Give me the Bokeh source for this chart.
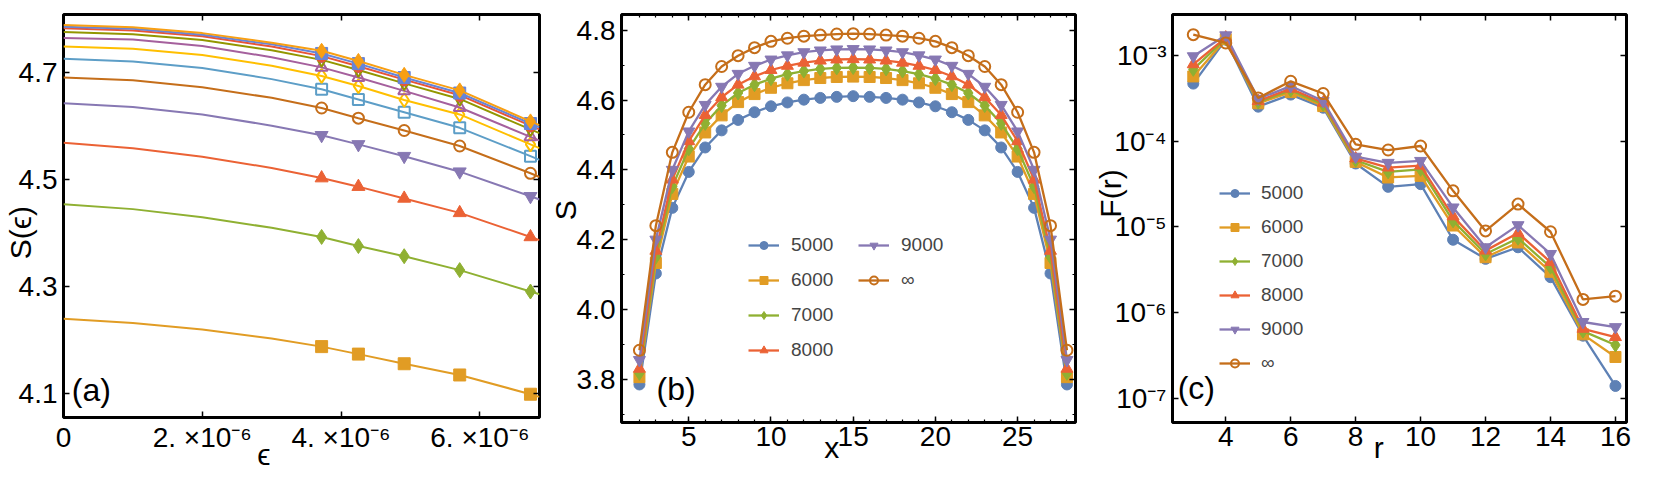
import math
from bokeh.plotting import figure
from bokeh.models import (FixedTicker, CustomJSTickFormatter, Label, Legend, LegendItem,
                          LinearAxis, LogAxis, Range1d)
from bokeh.layouts import row
from bokeh.embed import file_html
from bokeh.resources import INLINE

FONT = "Liberation Sans"
NB = "\u00a0"

# ---------------- panel (a) data ----------------
a_eps_fit = [0.0, 1e-6, 2e-6, 3e-6, 3.72e-6, 4.25e-6, 4.91e-6, 5.71e-6, 6.73e-6, 6.86e-6]
a_eps_markers = [3.72e-6, 4.25e-6, 4.91e-6, 5.71e-6, 6.73e-6]
a_fit = [
    [4.239, 4.231, 4.219, 4.202, 4.187, 4.173, 4.155, 4.134, 4.098, 4.093],
    [4.453, 4.444, 4.429, 4.409, 4.392, 4.375, 4.356, 4.330, 4.290, 4.285],
    [4.568, 4.558, 4.542, 4.521, 4.502, 4.486, 4.464, 4.437, 4.392, 4.386],
    [4.642, 4.635, 4.621, 4.600, 4.582, 4.565, 4.543, 4.514, 4.468, 4.462],
    [4.690, 4.685, 4.672, 4.652, 4.633, 4.614, 4.591, 4.562, 4.511, 4.504],
    [4.725, 4.720, 4.708, 4.687, 4.668, 4.649, 4.625, 4.596, 4.543, 4.536],
    [4.748, 4.744, 4.732, 4.712, 4.693, 4.674, 4.648, 4.621, 4.565, 4.558],
    [4.764, 4.761, 4.749, 4.728, 4.709, 4.690, 4.665, 4.634, 4.579, 4.572],
    [4.775, 4.771, 4.760, 4.741, 4.723, 4.704, 4.679, 4.650, 4.593, 4.586],
    [4.782, 4.778, 4.767, 4.748, 4.730, 4.711, 4.686, 4.657, 4.600, 4.593],
    [4.785, 4.781, 4.770, 4.752, 4.735, 4.716, 4.690, 4.661, 4.604, 4.597],
    [4.788, 4.784, 4.773, 4.755, 4.740, 4.721, 4.695, 4.666, 4.608, 4.601],
]
a_markers = [
    [4.187, 4.173, 4.155, 4.134, 4.098],
    [4.392, 4.375, 4.356, 4.330, 4.290],
    [4.502, 4.486, 4.464, 4.437, 4.392],
    [4.582, 4.565, 4.543, 4.514, 4.468],
    [4.633, 4.614, 4.591, 4.562, 4.511],
    [4.668, 4.649, 4.625, 4.596, 4.543],
    [4.693, 4.674, 4.648, 4.621, 4.565],
    [4.709, 4.690, 4.665, 4.634, 4.579],
    [4.723, 4.704, 4.679, 4.650, 4.593],
    [4.730, 4.711, 4.686, 4.657, 4.600],
    [4.735, 4.716, 4.690, 4.661, 4.604],
    [4.740, 4.721, 4.695, 4.666, 4.608],
]
a_colors = ["#E19C24", "#8FB032", "#EB6235", "#8778B3", "#C56E1A", "#5D9EC7",
            "#FFBF00", "#A5609D", "#929600", "#E95536", "#6685D9", "#F89F13"]
a_marker_types = ["square", "diamond", "triangle", "inverted_triangle", "circle", "square",
                  "diamond", "triangle", "inverted_triangle", "circle", "square", "diamond"]
a_marker_filled = [True, True, True, True, False, False, False, False, False, True, True, True]
a_xticks = [0.0, 2e-6, 4e-6, 6e-6]
a_xtick_labels = ["0", "2. \u00d710\u207b\u2076", "4. \u00d710\u207b\u2076", "6. \u00d710\u207b\u2076"]
a_yticks = [4.1, 4.3, 4.5, 4.7]
a_ytick_labels = ["4.1", "4.3", "4.5", "4.7"]
a_xlabel = "\u03f5"
a_ylabel = "S(\u03f5)"

# ---------------- panel (b) data ----------------
b_x = list(range(2, 29))
b_labels = ["5000", "6000", "7000", "8000", "9000", "\u221e"]
b_S = [
    [3.785, 4.103, 4.291, 4.394, 4.464, 4.513, 4.543, 4.565, 4.582, 4.593, 4.601, 4.606, 4.609, 4.611,
     4.609, 4.606, 4.601, 4.593, 4.582, 4.565, 4.543, 4.513, 4.464, 4.394, 4.291, 4.103, 3.785],
    [3.806, 4.133, 4.331, 4.438, 4.507, 4.556, 4.594, 4.617, 4.635, 4.648, 4.657, 4.663, 4.666, 4.667,
     4.666, 4.663, 4.657, 4.648, 4.635, 4.617, 4.594, 4.556, 4.507, 4.438, 4.331, 4.133, 3.806],
    [3.817, 4.150, 4.352, 4.460, 4.533, 4.584, 4.620, 4.644, 4.661, 4.674, 4.683, 4.689, 4.692, 4.693,
     4.692, 4.689, 4.683, 4.674, 4.661, 4.644, 4.620, 4.584, 4.533, 4.460, 4.352, 4.150, 3.817],
    [3.830, 4.168, 4.372, 4.482, 4.557, 4.608, 4.644, 4.668, 4.686, 4.698, 4.707, 4.713, 4.716, 4.717,
     4.716, 4.713, 4.707, 4.698, 4.686, 4.668, 4.644, 4.608, 4.557, 4.482, 4.372, 4.168, 3.830],
    [3.855, 4.200, 4.400, 4.510, 4.586, 4.638, 4.675, 4.698, 4.716, 4.728, 4.737, 4.742, 4.745, 4.746,
     4.745, 4.742, 4.737, 4.728, 4.716, 4.698, 4.675, 4.638, 4.586, 4.510, 4.400, 4.200, 3.855],
    [3.883, 4.240, 4.450, 4.565, 4.644, 4.696, 4.727, 4.750, 4.768, 4.777, 4.783, 4.786, 4.789, 4.790,
     4.789, 4.786, 4.783, 4.777, 4.768, 4.750, 4.727, 4.696, 4.644, 4.565, 4.450, 4.240, 3.883],
]
b_xticks = [5, 10, 15, 20, 25]
b_xtick_labels = ["5", "10", "15", "20", "25"]
b_yticks = [3.8, 4.0, 4.2, 4.4, 4.6, 4.8]
b_ytick_labels = ["3.8", "4.0", "4.2", "4.4", "4.6", "4.8"]
b_xlabel = "x"
b_ylabel = "S"

# ---------------- panel (c) data ----------------
c_r = list(range(3, 17))
c_F = [
    [4.7e-4, 1.53e-3, 2.53e-4, 3.5e-4, 2.46e-4, 5.5e-5, 2.94e-5, 3.16e-5, 7.1e-6, 4.25e-6, 5.8e-6, 2.6e-6, 5.4e-7, 1.4e-7],
    [5.7e-4, 1.55e-3, 2.77e-4, 3.74e-4, 2.57e-4, 5.75e-5, 3.78e-5, 3.95e-5, 1.04e-5, 4.44e-6, 6.6e-6, 3.0e-6, 5.6e-7, 3.05e-7],
    [6.9e-4, 1.58e-3, 2.86e-4, 3.95e-4, 2.69e-4, 6.0e-5, 4.4e-5, 4.7e-5, 1.18e-5, 4.85e-6, 7.4e-6, 3.4e-6, 6.1e-7, 4.2e-7],
    [7.9e-4, 1.62e-3, 2.94e-4, 4.1e-4, 2.81e-4, 6.3e-5, 4.93e-5, 5.2e-5, 1.33e-5, 5.3e-6, 8.5e-6, 3.9e-6, 6.5e-7, 5.2e-7],
    [9.8e-4, 1.72e-3, 3.13e-4, 4.4e-4, 2.94e-4, 6.6e-5, 5.6e-5, 5.9e-5, 1.69e-5, 5.8e-6, 1.05e-5, 4.85e-6, 7.8e-7, 6.8e-7],
    [1.75e-3, 1.40e-3, 3.2e-4, 5.0e-4, 3.6e-4, 9.2e-5, 7.9e-5, 8.8e-5, 2.64e-5, 9.0e-6, 1.85e-5, 8.8e-6, 1.43e-6, 1.56e-6],
]
c_xticks = [4, 6, 8, 10, 12, 14, 16]
c_xtick_labels = ["4", "6", "8", "10", "12", "14", "16"]
c_yticks = [1e-7, 1e-6, 1e-5, 1e-4, 1e-3]
c_ytick_labels = ["10\u207b\u2077", "10\u207b\u2076", "10\u207b\u2075", "10\u207b\u2074", "10\u207b\u00b3"]
c_xlabel = "r"
c_ylabel = "F(r)"

bc_colors = ["#5E81B5", "#E19C24", "#8FB032", "#EB6235", "#8778B3", "#C56E1A"]
bc_markers = ["circle", "square", "diamond", "triangle", "inverted_triangle", "circle"]
bc_filled = [True, True, True, True, True, False]
bc_sizes = [11, 11, 14, 12, 12, 11]

# ---------------- helpers ----------------
def label_fmt(ticks, labels):
    return CustomJSTickFormatter(args=dict(t=ticks, l=labels), code="""
        for (let i = 0; i < t.length; i++) {
            if (Math.abs(t[i] - tick) <= 1e-6 * Math.max(Math.abs(t[i]), 1e-15)) { return l[i]; }
        }
        return '';
    """)

def style_axis(ax, ticks, labels=None, minor=None, standoff=6):
    ax.ticker = FixedTicker(ticks=ticks, minor_ticks=minor or [])
    ax.axis_line_color = None
    ax.major_tick_in = 6
    ax.major_tick_out = 0
    ax.minor_tick_in = 3
    ax.minor_tick_out = 0
    ax.major_tick_line_width = 1.5
    ax.minor_tick_line_width = 1.2
    ax.major_tick_line_color = "black"
    ax.minor_tick_line_color = "black"
    if labels is None:
        ax.formatter = CustomJSTickFormatter(code="return '';")
        ax.major_label_text_font_size = "1px"
        ax.major_label_standoff = 0
    else:
        ax.formatter = label_fmt(ticks, labels)
        ax.major_label_text_font = FONT
        ax.major_label_text_font_size = "28px"
        ax.major_label_text_color = "black"
        ax.major_label_standoff = standoff

def set_axis_label(ax, text, standoff):
    ax.axis_label = text
    ax.axis_label_text_font = FONT
    ax.axis_label_text_font_size = "30px"
    ax.axis_label_text_font_style = "normal"
    ax.axis_label_text_color = "black"
    ax.axis_label_standoff = standoff

def make_fig(xr, yr, fw, fh, ml, mr, mt, mb, ylog=False):
    p = figure(output_backend="svg", toolbar_location=None,
               frame_width=fw, frame_height=fh,
               min_border_left=ml, min_border_right=mr, min_border_top=mt, min_border_bottom=mb,
               x_range=xr, y_range=yr, y_axis_type="log" if ylog else "linear")
    p.grid.visible = False
    p.outline_line_color = "black"
    p.outline_line_width = 3
    p.background_fill_color = "white"
    p.border_fill_color = "white"
    return p

def add_mirror_axes(p, xticks, yticks, xminor=None, yminor=None, ylog=False):
    top = LinearAxis()
    style_axis(top, xticks, None, xminor)
    p.add_layout(top, "above")
    right = LogAxis() if ylog else LinearAxis()
    style_axis(right, yticks, None, yminor)
    p.add_layout(right, "right")

def panel_label(p, x, y, text):
    p.add_layout(Label(x=x, y=y, text=text, text_align="left", text_baseline="middle",
                       text_font=FONT, text_font_size="32px", text_color="black"))

def make_legend(items, loc, spacing, nrows=None, label_width=20, standoff=12):
    kw = dict(items=items, location=loc, orientation="vertical",
              label_text_font=FONT, label_text_font_size="19px", glyph_width=31, glyph_height=20,
              label_height=20, label_width=label_width, label_standoff=standoff, spacing=spacing,
              padding=0, margin=0, background_fill_alpha=0, border_line_alpha=0)
    if nrows is not None:
        kw["nrows"] = nrows
    return Legend(**kw)

# ---------------- panel (a) ----------------
pa = make_fig(Range1d(0, 6.86e-6), Range1d(4.0545, 4.8078), 476, 403, 58, 6, 14, 49)
style_axis(pa.xaxis[0], a_xticks, a_xtick_labels, standoff=4)
style_axis(pa.yaxis[0], a_yticks, a_ytick_labels, standoff=6)
set_axis_label(pa.xaxis[0], a_xlabel + NB * 9, -18)
set_axis_label(pa.yaxis[0], a_ylabel + NB * 4, -21)
add_mirror_axes(pa, a_xticks, a_yticks)
a_sizes = {"square": 12, "diamond": 15, "triangle": 13, "inverted_triangle": 13, "circle": 12}
for i in range(len(a_fit)):
    c = a_colors[i]
    pa.line(a_eps_fit, a_fit[i], line_color=c, line_width=2)
    mk = a_marker_types[i]
    sz = a_sizes[mk]
    if a_marker_filled[i]:
        pa.scatter(a_eps_markers, a_markers[i], marker=mk, size=sz, fill_color=c, line_color=c, line_width=1)
    else:
        pa.scatter(a_eps_markers, a_markers[i], marker=mk, size=sz - 1, fill_color=None, line_color=c, line_width=2)
panel_label(pa, 0.12e-6, 4.106, "(a)")

# ---------------- panel (b) ----------------
b_yminor = [round(3.7 + 0.1 * k, 2) for k in range(12)]
pb = make_fig(Range1d(0.91, 28.52), Range1d(3.676, 4.845), 454, 408, 72, 6, 9, 49)
style_axis(pb.xaxis[0], b_xticks, b_xtick_labels, minor=list(range(1, 29)), standoff=4)
style_axis(pb.yaxis[0], b_yticks, b_ytick_labels, minor=b_yminor, standoff=6)
set_axis_label(pb.xaxis[0], b_xlabel + NB * 4, -18)
set_axis_label(pb.yaxis[0], NB * 2 + b_ylabel, -8)
add_mirror_axes(pb, b_xticks, b_yticks, list(range(1, 29)), b_yminor)
b_items = []
for i in range(6):
    c = bc_colors[i]
    lr = pb.line(b_x, b_S[i], line_color=c, line_width=2.3)
    if bc_filled[i]:
        sr = pb.scatter(b_x, b_S[i], marker=bc_markers[i], size=bc_sizes[i], fill_color=c, line_color=c, line_width=1)
    else:
        sr = pb.scatter(b_x, b_S[i], marker=bc_markers[i], size=bc_sizes[i], fill_color=None, line_color=c, line_width=2)
    b_items.append(LegendItem(label=b_labels[i], renderers=[lr, sr]))
pb.add_layout(make_legend(b_items, (127, 61), 13, nrows=4, label_width=54, standoff=12))
panel_label(pb, 3.04, 3.772, "(b)")

# ---------------- panel (c) ----------------
pc = make_fig(Range1d(2.36, 16.34), Range1d(10 ** -7.28, 10 ** -2.522), 454, 408, 91, 12, 10, 48, ylog=True)
style_axis(pc.xaxis[0], c_xticks, c_xtick_labels, standoff=4)
style_axis(pc.yaxis[0], c_yticks, c_ytick_labels, standoff=6)
set_axis_label(pc.xaxis[0], c_xlabel + NB * 5, -18)
set_axis_label(pc.yaxis[0], NB * 6 + c_ylabel, -16)
add_mirror_axes(pc, c_xticks, c_yticks, ylog=True)
c_items = []
for i in range(6):
    c = bc_colors[i]
    lr = pc.line(c_r, c_F[i], line_color=c, line_width=2.3)
    if bc_filled[i]:
        sr = pc.scatter(c_r, c_F[i], marker=bc_markers[i], size=bc_sizes[i], fill_color=c, line_color=c, line_width=1)
    else:
        sr = pc.scatter(c_r, c_F[i], marker=bc_markers[i], size=bc_sizes[i], fill_color=None, line_color=c, line_width=2)
    c_items.append(LegendItem(label=b_labels[i], renderers=[lr, sr]))
pc.add_layout(make_legend(c_items, (47, 48), 12, standoff=11))
panel_label(pc, 2.52, 10 ** -6.882, "(c)")

layout = row(pa, pb, pc)
open("out.html", "w").write(file_html(layout, INLINE))
